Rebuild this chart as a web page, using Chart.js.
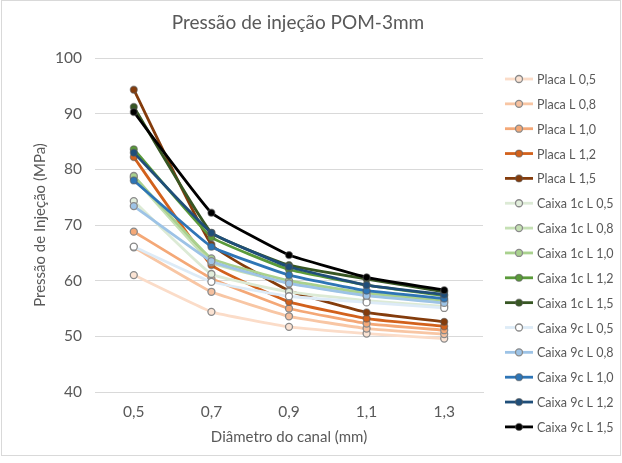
<!DOCTYPE html>
<html>
<head>
<meta charset="utf-8">
<script src="https://cdn.jsdelivr.net/npm/chart.js@4/dist/chart.umd.min.js"></script>
<style>
  html, body { margin: 0; padding: 0; background: #fff; }
  canvas { display: block; }
</style>
</head>
<body>
<canvas id="grafico" width="622" height="463"></canvas>
<script>
// Dados
const categorias = ["0,5", "0,7", "0,9", "1,1", "1,3"];
const yMin = 40, yMax = 100, yPasso = 10;

const placaL05 = [61.0, 54.4, 51.7, 50.5, 49.6];
const placaL08 = [66.0, 58.0, 53.6, 51.4, 50.4];
const placaL10 = [68.8, 60.4, 55.0, 52.3, 51.1];
const placaL12 = [82.2, 62.8, 56.2, 53.2, 51.8];
const placaL15 = [94.3, 66.5, 58.2, 54.3, 52.6];
const caixa1cL05 = [74.3, 61.2, 58.0, 56.4, 55.4];
const caixa1cL08 = [78.5, 63.3, 59.6, 57.4, 56.2];
const caixa1cL10 = [78.8, 64.0, 60.0, 57.8, 56.5];
const caixa1cL12 = [83.6, 67.8, 62.0, 59.2, 57.3];
const caixa1cL15 = [91.2, 68.6, 62.8, 60.3, 58.0];
const caixa9cL05 = [66.1, 59.8, 57.2, 56.1, 55.1];
const caixa9cL08 = [73.4, 63.5, 59.5, 57.3, 56.0];
const caixa9cL10 = [78.0, 66.1, 61.0, 58.2, 56.8];
const caixa9cL12 = [83.0, 68.6, 62.5, 59.2, 57.5];
const caixa9cL15 = [90.3, 72.2, 64.6, 60.6, 58.3];

const nomes = [
  "Placa L 0,5", "Placa L 0,8", "Placa L 1,0", "Placa L 1,2", "Placa L 1,5",
  "Caixa 1c L 0,5", "Caixa 1c L 0,8", "Caixa 1c L 1,0", "Caixa 1c L 1,2", "Caixa 1c L 1,5",
  "Caixa 9c L 0,5", "Caixa 9c L 0,8", "Caixa 9c L 1,0", "Caixa 9c L 1,2", "Caixa 9c L 1,5"
];
const valores = [
  placaL05, placaL08, placaL10, placaL12, placaL15,
  caixa1cL05, caixa1cL08, caixa1cL10, caixa1cL12, caixa1cL15,
  caixa9cL05, caixa9cL08, caixa9cL10, caixa9cL12, caixa9cL15
];

// cores
const corLinha = [
  "#fbdcc8", "#f8c6a4", "#f4a877", "#d2611c", "#843c0c",
  "#dcead5", "#c5e0b4", "#a9d18e", "#5a9a3a", "#375623",
  "#ddebf7", "#9dc3e6", "#2e75b6", "#1f4e79", "#000000"
];
const corPonto = [
  "#fbe3d3", "#f6c09e", "#f4a877", "#d2611c", "#843c0c",
  "#e2eedc", "#c5e0b4", "#a9d18e", "#5a9a3a", "#375623",
  "#ffffff", "#9dc3e6", "#2e75b6", "#1f4e79", "#000000"
];
const claro = [true, true, true, false, false, true, true, true, false, false, true, true, false, false, false];

const fonte = "Lato, 'Open Sans', sans-serif";
const cinza = "#595959";

const datasets = nomes.map((nome, i) => ({
  label: nome,
  data: valores[i],
  borderColor: corLinha[i],
  backgroundColor: corPonto[i],
  borderWidth: 2.8,
  pointRadius: 3.5,
  pointBorderWidth: 1.3,
  pointBorderColor: claro[i] ? "#8a8a8a" : "rgba(90,90,90,0.55)",
  pointBackgroundColor: corPonto[i],
  tension: 0.1,
  order: nomes.length - i
}));

// legenda e título desenhados à mão
const extras = {
  id: "extras",
  beforeDraw(chart) {
    const ctx = chart.ctx;
    ctx.save();
    ctx.fillStyle = "#fff";
    ctx.fillRect(0, 0, chart.width, chart.height);
    ctx.strokeStyle = "#d9d9d9";
    ctx.lineWidth = 1;
    ctx.strokeRect(1.5, 0.5, 619, 455);
    ctx.restore();
  },
  afterDraw(chart) {
    const ctx = chart.ctx;
    ctx.save();
    ctx.fillStyle = cinza;
    ctx.font = "19px " + fonte;
    ctx.textAlign = "center";
    ctx.textBaseline = "middle";
    ctx.fillText("Pressão de injeção POM-3mm", 298, 23);

    ctx.font = "12.5px " + fonte;
    ctx.textAlign = "left";
    nomes.forEach((nome, i) => {
      const y = 79 + i * 24.85;
      ctx.strokeStyle = corLinha[i];
      ctx.lineWidth = 2.8;
      ctx.beginPath();
      ctx.moveTo(505, y);
      ctx.lineTo(533, y);
      ctx.stroke();
      ctx.beginPath();
      ctx.arc(519, y, 3.5, 0, Math.PI * 2);
      ctx.fillStyle = corPonto[i];
      ctx.fill();
      ctx.lineWidth = 1.3;
      ctx.strokeStyle = claro[i] ? "#8a8a8a" : "rgba(90,90,90,0.55)";
      ctx.stroke();
      ctx.fillStyle = cinza;
      ctx.fillText(nome, 537, y + 1);
    });
    ctx.restore();
  }
};

new Chart(document.getElementById("grafico"), {
  type: "line",
  data: { labels: categorias, datasets },
  options: {
    responsive: false,
    animation: false,
    devicePixelRatio: 1,
    layout: { padding: { top: 58, right: 139, left: 0, bottom: 0 } },
    plugins: {
      legend: { display: false },
      title: { display: false },
      tooltip: { enabled: false }
    },
    scales: {
      x: {
        offset: true,
        grid: { display: false, drawTicks: false },
        border: { color: "#d9d9d9" },
        ticks: { color: cinza, font: { family: fonte, size: 15.5 }, padding: 11 },
        title: {
          display: true,
          text: "Diâmetro do canal (mm)",
          color: cinza,
          font: { family: fonte, size: 15 },
          padding: { top: 0, bottom: 17 }
        },
        afterFit(s) { s.height = 71; }
      },
      y: {
        min: yMin,
        max: yMax,
        ticks: { stepSize: yPasso, color: cinza, font: { family: fonte, size: 15.5 }, padding: 13 },
        grid: { color: "#d9d9d9", drawTicks: false },
        border: { display: false },
        title: {
          display: true,
          text: "Pressão de Injeção (MPa)",
          color: cinza,
          font: { family: fonte, size: 15 },
          padding: { top: 31, bottom: 0 }
        },
        afterFit(s) { s.width = 95; }
      }
    }
  },
  plugins: [extras]
});
</script>
</body>
</html>
